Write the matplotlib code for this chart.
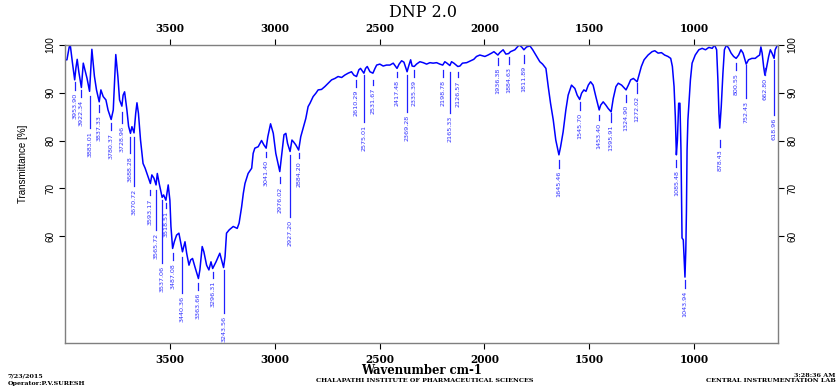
import matplotlib
matplotlib.use("Agg")
import matplotlib.pyplot as plt

# spectrum (wavenumber cm-1, transmittance %)
wavenumber = [4000, 3991, 3980, 3975, 3965, 3954, 3948, 3942, 3934, 3922, 3913, 3895, 3883, 3872, 3860,
              3850, 3837, 3829, 3818, 3805, 3795, 3780, 3770, 3758, 3748, 3740, 3729, 3723, 3716, 3705,
              3697, 3688, 3681, 3671, 3663, 3657, 3650, 3640, 3628, 3618, 3605, 3593, 3586, 3576, 3566,
              3560, 3551, 3537, 3530, 3519, 3508, 3500, 3495, 3487, 3479, 3468, 3457, 3440, 3432, 3428,
              3420, 3409, 3401, 3392, 3381, 3364, 3357, 3346, 3338, 3325, 3314, 3304, 3296, 3280, 3262,
              3244, 3237, 3230, 3217, 3198, 3179, 3170, 3158, 3150, 3142, 3127, 3110, 3103, 3095, 3079,
              3063, 3052, 3041, 3033, 3020, 3007, 2995, 2976, 2968, 2956, 2947, 2939, 2927, 2918, 2910,
              2900, 2886, 2876, 2867, 2852, 2841, 2832, 2817, 2804, 2793, 2777, 2761, 2745, 2729, 2713,
              2698, 2681, 2666, 2650, 2634, 2623, 2610, 2599, 2591, 2575, 2567, 2559, 2546, 2532, 2522,
              2514, 2499, 2483, 2467, 2451, 2435, 2417, 2407, 2395, 2384, 2369, 2360, 2352, 2345, 2335,
              2324, 2308, 2292, 2276, 2260, 2245, 2228, 2213, 2199, 2189, 2179, 2165, 2157, 2146, 2127,
              2117, 2105, 2085, 2066, 2051, 2038, 2022, 1998, 1983, 1966, 1955, 1936, 1927, 1911, 1898,
              1885, 1876, 1855, 1835, 1823, 1812, 1799, 1783, 1770, 1755, 1736, 1723, 1707, 1696, 1685,
              1672, 1660, 1645, 1637, 1625, 1612, 1601, 1585, 1569, 1558, 1546, 1537, 1526, 1516, 1505,
              1494, 1482, 1469, 1453, 1446, 1434, 1421, 1410, 1396, 1386, 1373, 1362, 1346, 1325, 1314,
              1303, 1290, 1272, 1265, 1252, 1239, 1220, 1201, 1188, 1172, 1156, 1141, 1125, 1112, 1104,
              1096, 1090, 1085, 1080, 1074, 1068, 1063, 1058, 1052, 1044, 1040, 1037, 1034, 1030, 1026,
              1018, 1010, 995, 978, 962, 946, 930, 914, 903, 893, 887, 882, 878, 871, 863,
              856, 846, 835, 824, 812, 800, 788, 777, 767, 758, 752, 741, 725, 709, 698,
              688, 682, 676, 669, 663, 657, 645, 637, 629, 619, 614, 603]
transmittance = [96.9, 96.9, 99.6, 100.0, 96.4, 92.7, 95.2, 97.0, 94.3, 91.1, 96.2, 93.0, 90.3, 99.1, 93.5,
                 90.6, 88.1, 90.6, 89.2, 88.5, 86.4, 84.4, 86.4, 98.0, 93.4, 88.5, 87.2, 89.5, 90.2, 86.4,
                 83.0, 81.5, 82.9, 81.6, 85.7, 87.9, 85.7, 80.1, 75.2, 74.2, 72.5, 71.0, 72.8, 72.1, 70.7,
                 73.1, 71.0, 68.1, 68.6, 67.5, 70.7, 67.5, 62.0, 57.4, 58.8, 60.2, 60.6, 56.7, 58.1, 58.8,
                 56.4, 53.9, 55.0, 55.3, 53.6, 51.1, 52.9, 57.8, 56.7, 53.9, 52.9, 54.6, 53.2, 54.6, 56.4,
                 53.4, 55.7, 60.6, 61.3, 62.0, 61.6, 62.7, 66.1, 68.9, 71.0, 73.1, 74.2, 77.3, 78.4, 78.7,
                 80.0, 79.1, 78.4, 80.8, 83.5, 81.5, 77.3, 73.5, 76.6, 81.2, 81.5, 79.4, 77.7, 80.1, 79.7,
                 79.1, 78.0, 80.8, 82.2, 84.6, 87.1, 87.8, 89.2, 89.9, 90.6, 90.7, 91.3, 92.0, 92.7, 93.0,
                 93.4, 93.2, 93.7, 94.1, 94.4, 93.7, 93.4, 94.8, 95.1, 94.1, 95.1, 95.5, 94.4, 94.1, 95.1,
                 95.8, 96.0, 95.6, 95.8, 95.8, 96.2, 95.1, 96.0, 96.7, 96.4, 94.4, 95.8, 96.9, 95.6, 95.5,
                 96.0, 96.5, 96.3, 96.0, 96.3, 96.2, 96.3, 96.0, 95.8, 96.5, 96.2, 95.7, 96.5, 96.2, 95.5,
                 95.6, 96.2, 96.3, 96.7, 97.0, 97.6, 97.9, 97.6, 97.9, 98.3, 98.6, 97.9, 98.4, 99.0, 98.1,
                 98.2, 98.6, 99.0, 100.0, 99.6, 99.0, 99.6, 99.8, 99.0, 97.9, 96.5, 96.0, 95.1, 91.3, 87.8,
                 84.3, 80.1, 77.0, 78.7, 81.8, 86.4, 89.5, 91.6, 90.9, 89.5, 88.6, 89.9, 90.6, 90.3, 91.6,
                 92.3, 91.6, 89.2, 86.4, 87.4, 88.1, 87.4, 86.7, 86.0, 88.8, 91.3, 92.0, 91.6, 90.6, 91.6,
                 92.7, 93.0, 92.3, 93.4, 95.5, 96.9, 97.9, 98.6, 98.8, 98.3, 98.4, 97.9, 97.6, 97.2, 95.5,
                 91.3, 85.0, 77.0, 80.1, 87.8, 87.8, 78.0, 59.6, 59.2, 51.4, 57.1, 65.1, 78.0, 84.3, 87.1,
                 92.7, 96.2, 97.9, 99.0, 99.3, 99.0, 99.5, 99.3, 100.0, 99.0, 92.7, 85.7, 82.6, 87.1, 94.1,
                 99.0, 100.0, 99.3, 98.3, 97.6, 97.2, 97.9, 99.0, 98.3, 96.9, 96.0, 96.9, 97.2, 97.2, 97.6,
                 97.9, 99.6, 98.3, 95.5, 93.7, 94.8, 97.6, 99.0, 98.3, 97.2, 99.0, 100.0]

# peak labels: wavenumber, top and bottom of the marker line (in % T)
peak_wn = [3953.90, 3922.34, 3883.01, 3837.33, 3780.37, 3728.96, 3688.28, 3670.72, 3593.17, 3565.72,
           3537.06, 3518.51, 3487.08, 3440.36, 3363.66, 3296.31, 3243.56, 3041.40, 2976.02, 2927.20,
           2884.20, 2610.29, 2575.01, 2531.67, 2417.48, 2369.28, 2335.39, 2198.78, 2165.33, 2126.57,
           1936.38, 1884.63, 1811.89, 1645.46, 1545.70, 1453.40, 1395.91, 1324.90, 1272.02, 1085.48,
           1043.94, 878.43, 800.55, 752.43, 662.80, 618.96]
line_top = [92.3, 90.6, 89.3, 87.4, 83.7, 86.0, 80.7, 80.7, 69.6, 69.6,
            67.5, 66.9, 56.4, 55.6, 50.2, 52.5, 52.9, 77.7, 72.4, 77.0,
            77.4, 92.7, 93.7, 92.7, 94.4, 93.7, 94.8, 94.8, 94.4, 94.4,
            97.2, 97.5, 97.9, 75.9, 88.1, 85.3, 85.7, 89.5, 92.0, 75.9,
            50.8, 80.1, 96.2, 95.8, 95.1, 96.9]
line_bot = [90.6, 89.1, 82.6, 86.0, 82.2, 83.7, 77.4, 70.5, 68.5, 61.2,
            54.3, 65.9, 55.0, 48.1, 48.7, 51.2, 43.9, 76.6, 71.0, 64.0,
            76.3, 91.3, 83.9, 91.6, 93.2, 86.0, 93.4, 93.2, 85.8, 93.2,
            95.8, 96.0, 96.2, 74.2, 86.4, 84.3, 83.9, 88.1, 89.9, 74.5,
            49.1, 78.7, 94.8, 88.8, 93.7, 85.3]

xticks = [3500, 3000, 2500, 2000, 1500, 1000]
yticks = [60, 70, 80, 90, 100]

fig = plt.figure(figsize=(8.38, 3.9), dpi=100)
ax = fig.add_axes([0.0776, 0.1205, 0.8504, 0.7641])

ax.plot(wavenumber, transmittance, color="#0000ff", lw=1.1)

for wn, top, bot in zip(peak_wn, line_top, line_bot):
    ax.plot([wn, wn], [top, bot], color="#2020ff", lw=0.9)
    ax.text(wn, bot - 0.6, "%.2f" % wn, rotation=90, ha="center", va="top",
            fontsize=4.6, color="#3030ff", family="DejaVu Sans")

ax.set_xlim(4000, 602)
ax.set_ylim(37.6, 100)
ax.set_xticks(xticks)
ax.set_yticks(yticks)
ax.tick_params(axis="x", top=True, labeltop=True, direction="out", length=4, width=0.8, pad=4,
               labelsize=7.6)
ax.tick_params(axis="y", right=True, labelright=True, direction="out", length=4, width=0.8, pad=3,
               labelsize=7.2)
for lab in ax.get_xticklabels():
    lab.set_family("DejaVu Serif")
    lab.set_fontweight("bold")
for lab in ax.get_yticklabels():
    lab.set_rotation(90)
    lab.set_va("center")
    lab.set_family("Liberation Sans")
for sp in ax.spines.values():
    sp.set_color("#7f7f7f")
    sp.set_linewidth(1.0)

ax.set_ylabel("Transmittance [%]", family="Liberation Sans", fontsize=7, labelpad=6)
ax.yaxis.set_label_coords(-0.052, 0.6)

fig.text(0.505, 0.968, "DNP 2.0", ha="center", va="center", family="DejaVu Serif", fontsize=11.5)
fig.text(0.503, 0.051, "Wavenumber cm-1", ha="center", va="center", family="DejaVu Serif",
         fontsize=8.4, fontweight="bold")

small = dict(family="DejaVu Serif", fontsize=4.6, fontweight="bold")
fig.text(0.009, 0.035, "7/23/2015", ha="left", va="center", **small)
fig.text(0.009, 0.017, "Operator:P.V.SURESH", ha="left", va="center", **small)
fig.text(0.507, 0.025, "CHALAPATHI INSTITUTE OF PHARMACEUTICAL SCIENCES", ha="center",
         va="center", **small)
fig.text(0.997, 0.036, "3:28:36 AM", ha="right", va="center", **small)
fig.text(0.997, 0.024, "CENTRAL INSTRUMENTATION LAB", ha="right", va="center", **small)

fig.savefig("out.png", dpi=100)
